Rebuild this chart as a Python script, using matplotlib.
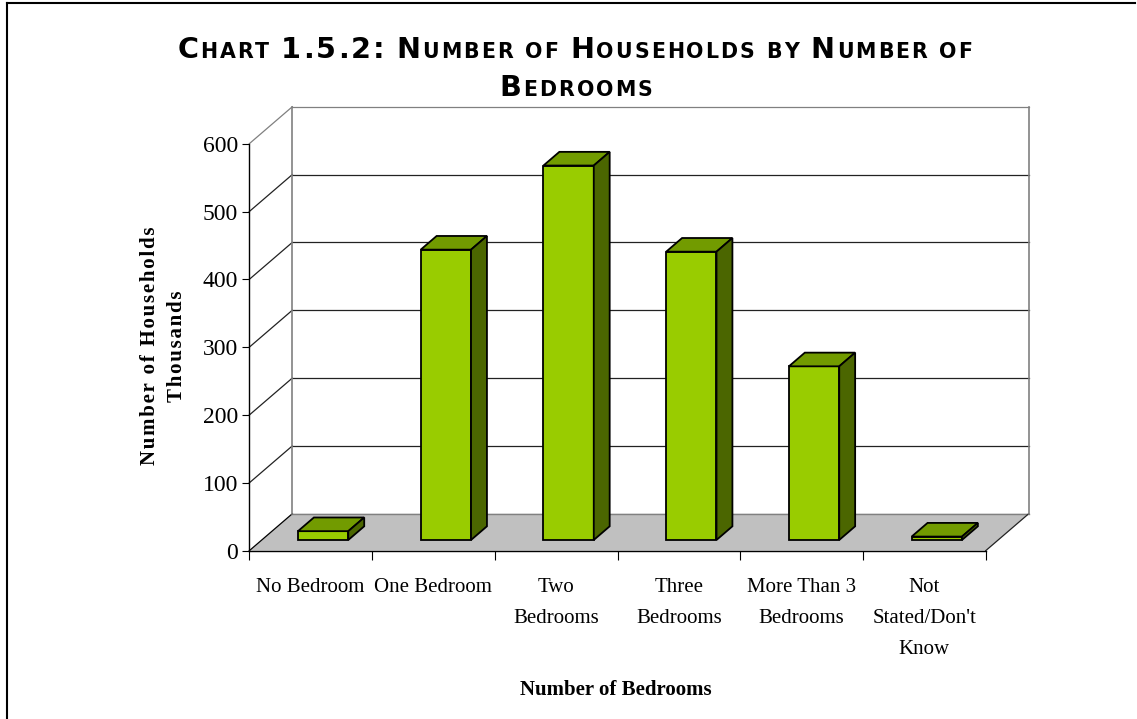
import numpy as np
import matplotlib
matplotlib.use('Agg')
import matplotlib.pyplot as plt
from matplotlib.patches import Polygon
from matplotlib.lines import Line2D
from matplotlib.transforms import IdentityTransform

categories = ['No Bedroom', 'One Bedroom', 'Two\nBedrooms', 'Three\nBedrooms',
              'More Than 3\nBedrooms', "Not\nStated/Don't\nKnow"]
households = [13, 428, 552, 425, 256, 5]   # thousands
yticks = [0, 100, 200, 300, 400, 500, 600]
title_lines = ['Chart 1.5.2: Number of Households by Number of', 'Bedrooms']

plt.rcParams['font.family'] = ['Liberation Serif', 'DejaVu Serif']

W, H = 1137, 719
fig = plt.figure(figsize=(W / 100, H / 100), dpi=100)
ax = fig.add_axes([249.3 / W, 1 - 550.7 / H, 736.4 / W, 407 / H])
ax.set_xlim(0, 6)
ax.set_ylim(0, 600)
ax.patch.set_visible(False)

n = len(categories)
DX, DY = 0.3504, 54.5      # depth of the 3d box in data units
f0, f1 = 0.29, 0.66        # bar depth range (fraction of box depth)
bw = 0.41
c_front, c_top, c_side = '#99cc00', '#729b00', '#4b6600'
gray = '#808080'

# floor
ax.add_patch(Polygon([(0, 0), (n, 0), (n + DX, DY), (DX, DY)], closed=True,
                     fc='#c0c0c0', ec='none', clip_on=False, zorder=1))
ax.plot([DX, n + DX], [DY, DY], color=gray, lw=1, clip_on=False, zorder=2)
ax.plot([0, DX], [0, DY], color='k', lw=0.9, clip_on=False, zorder=2)
ax.plot([n, n + DX], [0, DY], color='#222222', lw=0.9, clip_on=False, zorder=2)

# back wall + side wall grid
for v in yticks[1:]:
    c = gray if v == yticks[-1] else '#222222'
    ax.plot([DX, n + DX], [v + DY, v + DY], color=c, lw=0.9, clip_on=False, zorder=2)
    ax.plot([0, DX], [v, v + DY], color=c, lw=0.9, clip_on=False, zorder=2)
ax.plot([DX, DX], [DY, yticks[-1] + DY], color=gray, lw=1.2, clip_on=False, zorder=2)
ax.plot([n + DX, n + DX], [DY, yticks[-1] + DY], color=gray, lw=1.2, clip_on=False, zorder=2)

# bars
d = f1 - f0
for i, v in enumerate(households):
    x0 = i + 0.5 - bw / 2 + f0 * DX
    b = f0 * DY
    ax.bar(x0, v, bw, bottom=b, align='edge', color=c_front, edgecolor='k',
           lw=1.3, zorder=5, clip_on=False)
    ax.add_patch(Polygon([(x0, b + v), (x0 + bw, b + v), (x0 + bw + d * DX, b + v + d * DY),
                          (x0 + d * DX, b + v + d * DY)], closed=True, fc=c_top, ec='k',
                         lw=1.3, zorder=5, clip_on=False))
    ax.add_patch(Polygon([(x0 + bw, b), (x0 + bw + d * DX, b + d * DY),
                          (x0 + bw + d * DX, b + v + d * DY), (x0 + bw, b + v)], closed=True,
                         fc=c_side, ec='k', lw=1.3, zorder=5, clip_on=False))

# axes
for s in ['top', 'right']:
    ax.spines[s].set_visible(False)
ax.spines['left'].set_linewidth(1)
ax.spines['bottom'].set_linewidth(1)
ax.spines['bottom'].set_zorder(3)
ax.set_yticks(yticks)
ax.tick_params(axis='y', direction='out', length=5, width=0.8, pad=3, labelsize=17)
ax.set_xticks(range(n + 1))
ax.set_xticklabels([])
ax.tick_params(axis='x', which='major', direction='out', length=6.5, width=0.8)
ax.set_xticks(np.arange(n) + 0.5, categories, minor=True)
ax.tick_params(axis='x', which='minor', length=0, pad=19.5, labelsize=15)
for t in ax.get_xticklabels(minor=True):
    t.set_linespacing(1.85)

px = IdentityTransform()
spaced = lambda s: '\u200a'.join(s)
fig.text(150, H - 346, spaced('Number of Households'), transform=px, rotation=90,
         ha='center', va='center', fontsize=15, fontweight='bold')
fig.text(177, H - 346, spaced('Thousands'), transform=px, rotation=90,
         ha='center', va='center', fontsize=15, fontweight='bold')
fig.text(616, H - 690, 'Number of Bedrooms', transform=px, ha='center',
         va='center', fontsize=15, fontweight='bold')

# title in small caps, placed letter by letter
renderer = fig.canvas.get_renderer()


def small_caps(line, xc, ybase, big, small, gap=2.0, space=12):
    pieces = []
    x = 0
    for wi, word in enumerate(line.split(' ')):
        if wi:
            x += space
        for ch in word:
            sz = small if ch.islower() else big
            t = fig.text(0, ybase, ch.upper(), fontsize=sz, family='DejaVu Sans',
                         fontweight='bold', transform=px, ha='left', va='baseline')
            w = t.get_window_extent(renderer).width
            pieces.append((t, x))
            x += w + gap
        x -= gap
    for t, p in pieces:
        t.set_x(xc - x / 2 + p)


small_caps(title_lines[0], 575, H - 58, 20.7, 14.8)
small_caps(title_lines[1], 576, H - 96, 20.7, 14.8)

# frame lines (top and left only)
fig.add_artist(Line2D([7, 1135], [H - 3, H - 3], color='k', lw=1.5, transform=px))
fig.add_artist(Line2D([7, 7], [H - 3, 0], color='k', lw=1.5, transform=px))

fig.savefig('out.png', dpi=100)
